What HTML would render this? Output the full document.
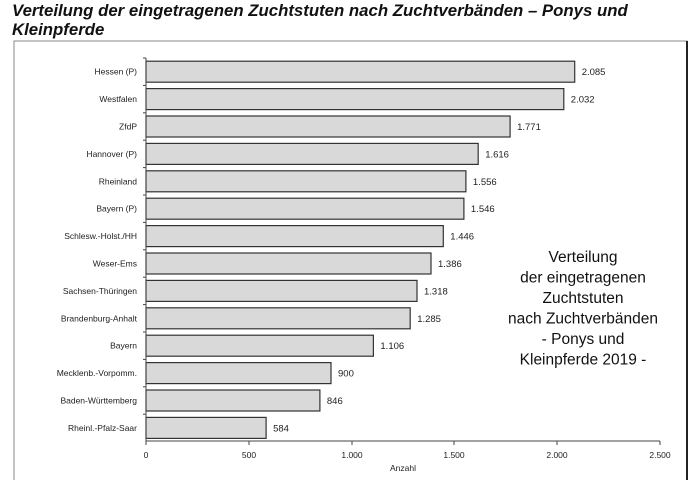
<!DOCTYPE html>
<html><head><meta charset="utf-8"><style>
body{margin:0;background:#fff;width:700px;height:480px;overflow:hidden}
svg{display:block;font-family:"Liberation Sans",sans-serif}
</style></head><body>
<svg width="700" height="480" viewBox="0 0 700 480">
<text x="12" y="16" font-size="16.8" font-weight="bold" font-style="italic" fill="#111">Verteilung der eingetragenen Zuchtstuten nach Zuchtverbänden – Ponys und</text>
<text x="12" y="35" font-size="16.8" font-weight="bold" font-style="italic" fill="#111">Kleinpferde</text>
<rect x="14" y="41" width="673" height="445" fill="none" stroke="#888" stroke-width="1"/>
<line x1="687" y1="41" x2="687" y2="480" stroke="#222" stroke-width="2"/>
<g stroke="#333" stroke-width="1.2" fill="#d9d9d9">
<rect x="146" y="61.2" width="428.7" height="21"/>
<rect x="146" y="88.6" width="417.8" height="21"/>
<rect x="146" y="116" width="364.1" height="21"/>
<rect x="146" y="143.4" width="332.2" height="21"/>
<rect x="146" y="170.8" width="319.9" height="21"/>
<rect x="146" y="198.2" width="317.9" height="21"/>
<rect x="146" y="225.6" width="297.3" height="21"/>
<rect x="146" y="253" width="285" height="21"/>
<rect x="146" y="280.4" width="271" height="21"/>
<rect x="146" y="307.8" width="264.2" height="21"/>
<rect x="146" y="335.2" width="227.4" height="21"/>
<rect x="146" y="362.6" width="185" height="21"/>
<rect x="146" y="390" width="173.9" height="21"/>
<rect x="146" y="417.4" width="120.1" height="21"/>
</g>
<g stroke="#444">
<line x1="143" y1="58" x2="146" y2="58"/><line x1="143" y1="85.4" x2="146" y2="85.4"/><line x1="143" y1="112.8" x2="146" y2="112.8"/><line x1="143" y1="140.2" x2="146" y2="140.2"/><line x1="143" y1="167.6" x2="146" y2="167.6"/><line x1="143" y1="195" x2="146" y2="195"/><line x1="143" y1="222.4" x2="146" y2="222.4"/><line x1="143" y1="249.8" x2="146" y2="249.8"/><line x1="143" y1="277.2" x2="146" y2="277.2"/><line x1="143" y1="304.6" x2="146" y2="304.6"/><line x1="143" y1="332" x2="146" y2="332"/><line x1="143" y1="359.4" x2="146" y2="359.4"/><line x1="143" y1="386.8" x2="146" y2="386.8"/><line x1="143" y1="414.2" x2="146" y2="414.2"/>
</g>
<g font-size="8.5" text-anchor="end" fill="#222">
<text x="137" y="74.7">Hessen (P)</text>
<text x="137" y="102.1">Westfalen</text>
<text x="137" y="129.5">ZfdP</text>
<text x="137" y="156.9">Hannover (P)</text>
<text x="137" y="184.3">Rheinland</text>
<text x="137" y="211.7">Bayern (P)</text>
<text x="137" y="239.1">Schlesw.-Holst./HH</text>
<text x="137" y="266.5">Weser-Ems</text>
<text x="137" y="293.9">Sachsen-Thüringen</text>
<text x="137" y="321.3">Brandenburg-Anhalt</text>
<text x="137" y="348.7">Bayern</text>
<text x="137" y="376.1">Mecklenb.-Vorpomm.</text>
<text x="137" y="403.5">Baden-Württemberg</text>
<text x="137" y="430.9">Rheinl.-Pfalz-Saar</text>
</g>
<g font-size="9.5" fill="#222">
<text x="581.7" y="75.2">2.085</text>
<text x="570.8" y="102.6">2.032</text>
<text x="517.1" y="130">1.771</text>
<text x="485.2" y="157.4">1.616</text>
<text x="472.9" y="184.8">1.556</text>
<text x="470.9" y="212.2">1.546</text>
<text x="450.3" y="239.6">1.446</text>
<text x="438" y="267">1.386</text>
<text x="424" y="294.4">1.318</text>
<text x="417.2" y="321.8">1.285</text>
<text x="380.4" y="349.2">1.106</text>
<text x="338" y="376.6">900</text>
<text x="326.9" y="404">846</text>
<text x="273.1" y="431.4">584</text>
</g>
<line x1="146" y1="58" x2="146" y2="441" stroke="#444"/>
<line x1="146" y1="441" x2="660" y2="441" stroke="#444"/>
<g font-size="8.5" fill="#222" text-anchor="middle">
<line x1="146" y1="441" x2="146" y2="445" stroke="#444"/><text x="146" y="458">0</text>
<line x1="249" y1="441" x2="249" y2="445" stroke="#444"/><text x="249" y="458">500</text>
<line x1="352" y1="441" x2="352" y2="445" stroke="#444"/><text x="352" y="458">1.000</text>
<line x1="454" y1="441" x2="454" y2="445" stroke="#444"/><text x="454" y="458">1.500</text>
<line x1="557" y1="441" x2="557" y2="445" stroke="#444"/><text x="557" y="458">2.000</text>
<line x1="660" y1="441" x2="660" y2="445" stroke="#444"/><text x="660" y="458">2.500</text>
<text x="403" y="471">Anzahl</text>
</g>
<g font-size="15.5" fill="#111" text-anchor="middle">
<text x="583" y="262">Verteilung</text>
<text x="583" y="282.5">der eingetragenen</text>
<text x="583" y="303">Zuchtstuten</text>
<text x="583" y="323.5">nach Zuchtverbänden</text>
<text x="583" y="344">- Ponys und</text>
<text x="583" y="364.5">Kleinpferde 2019 -</text>
</g>
</svg>
</body></html>
